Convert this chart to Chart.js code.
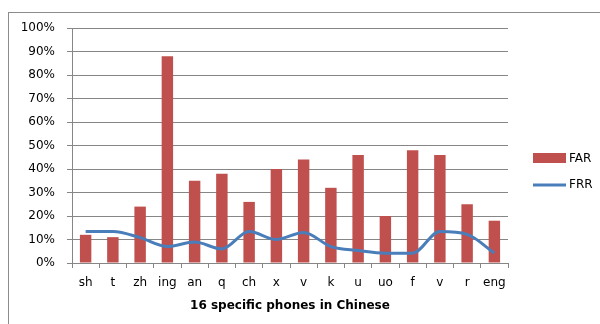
<!DOCTYPE html>
<html>
<head>
<meta charset="utf-8">
<script src="https://cdn.jsdelivr.net/npm/chart.js@4.4.1/dist/chart.umd.min.js"></script>
<style>
  html, body { margin: 0; padding: 0; background: #fff; }
  #wrap { position: relative; width: 600px; height: 324px; overflow: hidden; }
  #frame { position: absolute; left: 8px; top: 12px; width: 700px; height: 400px; border: 1px solid #8c8c8c; box-sizing: border-box; }
  canvas { position: absolute; left: 0; top: 0; }
</style>
</head>
<body>
<div id="wrap">
  <div id="frame"></div>
  <canvas id="c" width="600" height="324"></canvas>
</div>
<script>
// Phones on the x axis
const phones = ['sh', 't', 'zh', 'ing', 'an', 'q', 'ch', 'x', 'v', 'k', 'u', 'uo', 'f', 'v', 'r', 'eng'];
// False acceptance rate per phone (%)
const farValues = [12, 11, 24, 88, 35, 38, 26, 40, 44, 32, 46, 20, 48, 46, 25, 18];
// False rejection rate per phone (%)
const frrValues = [13.4, 13.4, 10.8, 7, 8.9, 6, 13.4, 10, 13, 7, 5.3, 4.2, 4.2, 13.4, 12.2, 4.2];
// Y axis ticks
const yTicks = [0, 10, 20, 30, 40, 50, 60, 70, 80, 90, 100];

const FONT = '"DejaVu Sans", Verdana, sans-serif';
const GRID = '#868686';

// Legend drawn at the right of the plot
const sideLegend = {
  id: 'sideLegend',
  afterDraw(chart) {
    const ctx = chart.ctx;
    const far = chart.data.datasets.find(d => d.label === 'FAR');
    const frr = chart.data.datasets.find(d => d.label === 'FRR');
    const x0 = 533, w = 33;
    ctx.save();
    ctx.font = '12px ' + FONT;
    ctx.textBaseline = 'middle';
    // FAR swatch
    ctx.fillStyle = far.backgroundColor;
    ctx.fillRect(x0, 153, w, 10);
    ctx.fillStyle = '#000';
    ctx.fillText(far.label, x0 + w + 3, 159);
    // FRR swatch
    ctx.strokeStyle = frr.borderColor;
    ctx.lineWidth = 3;
    ctx.beginPath();
    ctx.moveTo(x0, 185);
    ctx.lineTo(x0 + w, 185);
    ctx.stroke();
    ctx.fillText(frr.label, x0 + w + 3, 185);
    ctx.restore();
  }
};

new Chart(document.getElementById('c'), {
  data: {
    labels: phones,
    datasets: [
      {
        type: 'bar',
        label: 'FAR',
        data: farValues,
        backgroundColor: '#c0504d',
        categoryPercentage: 1,
        barPercentage: 0.42,
        order: 1
      },
      {
        type: 'line',
        label: 'FRR',
        data: frrValues,
        borderColor: '#4a7ebb',
        borderWidth: 3,
        pointRadius: 0,
        tension: 0.4,
        cubicInterpolationMode: 'monotone',
        fill: false,
        order: 0
      }
    ]
  },
  options: {
    responsive: false,
    animation: false,
    layout: { padding: { top: 28, right: 92, left: 0, bottom: 11 } },
    plugins: {
      legend: { display: false },
      tooltip: { enabled: false }
    },
    scales: {
      x: {
        type: 'category',
        offset: true,
        grid: { offset: true, drawOnChartArea: false, drawTicks: true, tickLength: 5, color: GRID },
        border: { color: GRID },
        ticks: { color: '#000', font: { family: FONT, size: 12 }, padding: 8, maxRotation: 0, autoSkip: false },
        title: { display: true, text: '16 specific phones in Chinese', color: '#000', font: { family: FONT, size: 12, weight: 'bold' }, padding: { top: 4, bottom: 0 } },
        afterFit(scale) { scale.height = 50; }
      },
      y: {
        min: 0,
        max: 100,
        afterBuildTicks(scale) { scale.ticks = yTicks.map(v => ({ value: v })); },
        grid: { color: GRID, tickLength: 5 },
        border: { color: GRID },
        ticks: { color: '#000', font: { family: FONT, size: 12 }, padding: 12, callback: v => v + '%' },
        afterFit(scale) { scale.width = 72; }
      }
    }
  },
  plugins: [sideLegend]
});
</script>
</body>
</html>
